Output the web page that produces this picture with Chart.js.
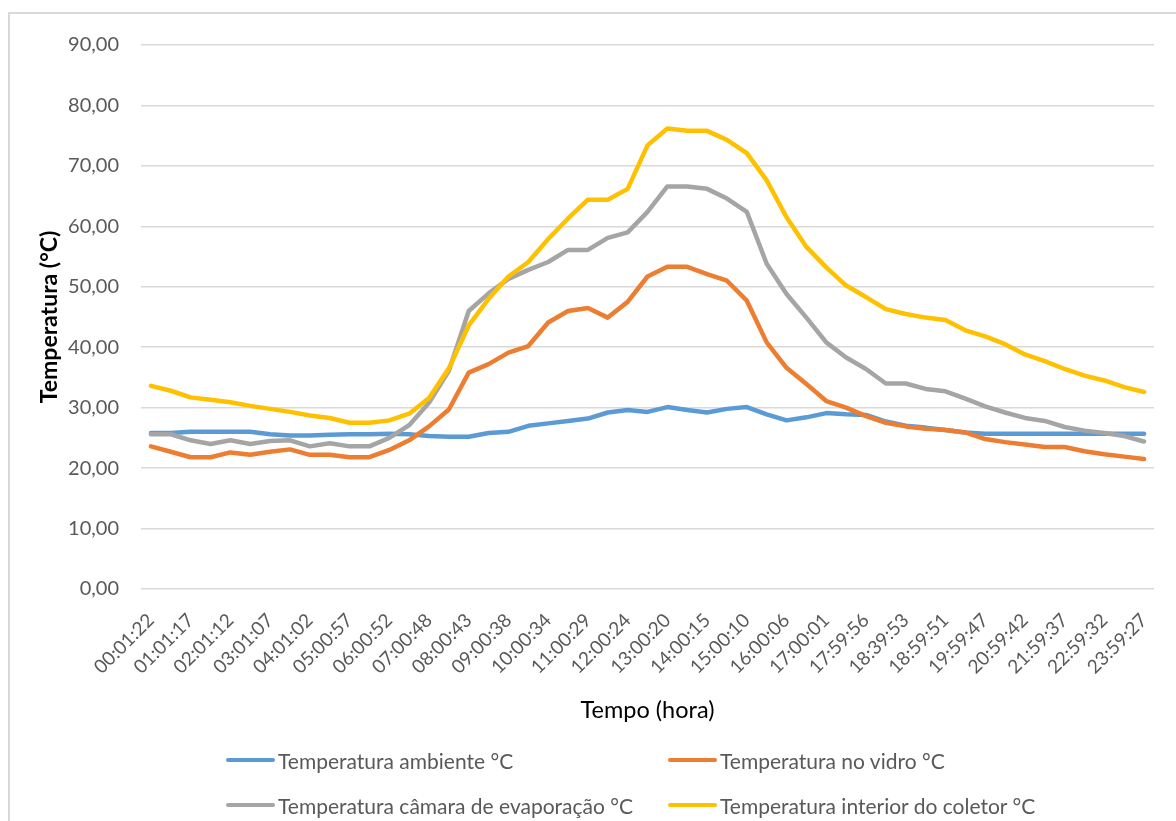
<!DOCTYPE html>
<html>
<head>
<meta charset="utf-8">
<script src="https://cdn.jsdelivr.net/npm/chart.js@4.4.1/dist/chart.umd.min.js"></script>
<style>
  html, body { margin: 0; padding: 0; background: #fff; }
  body { width: 1176px; height: 821px; position: relative; overflow: hidden; font-family: Lato, sans-serif; }
  #frame { position: absolute; left: 8px; top: 12px; width: 1300px; height: 900px; border-left: 2px solid #d9d9d9; border-top: 2px solid #d9d9d9; }
  #tempChart { position: absolute; left: 0; top: 0; }
  #legend { position: absolute; left: 226px; top: 745px; display: grid; grid-template-columns: 442px auto; row-gap: 15px; }
  .item { display: flex; align-items: center; height: 30px; color: #595959; font-size: 21px; white-space: nowrap; }
  .swatch { width: 49px; height: 4px; border-radius: 2px; margin-right: 3px; }
</style>
</head>
<body>
<div id="frame"></div>
<canvas id="tempChart" width="1176" height="821"></canvas>
<div id="legend"></div>
<script>
const horas = [
  '00:01:22', '00:31:20', '01:01:17', '01:31:15', '02:01:12', '02:31:10', '03:01:07', '03:31:05',
  '04:01:02', '04:31:00', '05:00:57', '05:30:55', '06:00:52', '06:30:50', '07:00:48', '07:30:45',
  '08:00:43', '08:30:41', '09:00:38', '09:30:36', '10:00:34', '10:30:31', '11:00:29', '11:30:27',
  '12:00:24', '12:30:22', '13:00:20', '13:30:17', '14:00:15', '14:30:13', '15:00:10', '15:30:08',
  '16:00:06', '16:30:03', '17:00:01', '17:29:58', '17:59:56', '18:19:55', '18:39:53', '18:49:52',
  '18:59:51', '19:29:49', '19:59:47', '20:29:44', '20:59:42', '21:29:40', '21:59:37', '22:29:35',
  '22:59:32', '23:29:30', '23:59:27'
];

const tAmbiente = [
  25.8, 25.8, 26.0, 26.0, 26.0, 26.0, 25.6, 25.4, 25.4, 25.5,
  25.6, 25.6, 25.7, 25.6, 25.3, 25.2, 25.2, 25.8, 26.0, 27.0,
  27.4, 27.8, 28.2, 29.2, 29.6, 29.3, 30.1, 29.6, 29.2, 29.8,
  30.1, 28.9, 27.9, 28.4, 29.1, 28.9, 28.8, 27.7, 27.0, 26.7,
  26.3, 25.9, 25.7, 25.7, 25.7, 25.7, 25.7, 25.7, 25.7, 25.7, 25.7
];

const tVidro = [
  23.6, 22.7, 21.8, 21.8, 22.6, 22.2, 22.7, 23.1, 22.2, 22.2,
  21.8, 21.8, 23.0, 24.6, 26.9, 29.7, 35.8, 37.2, 39.1, 40.2,
  44.1, 46.0, 46.5, 44.9, 47.5, 51.7, 53.3, 53.3, 52.1, 51.0,
  47.7, 40.8, 36.6, 33.9, 31.1, 30.0, 28.6, 27.5, 26.9, 26.5,
  26.3, 25.9, 24.8, 24.3, 23.9, 23.5, 23.5, 22.8, 22.3, 21.9, 21.5
];

const tCamara = [
  25.6, 25.6, 24.6, 24.0, 24.6, 24.0, 24.5, 24.6, 23.6, 24.1,
  23.6, 23.6, 25.0, 27.1, 30.8, 36.1, 46.0, 48.9, 51.3, 52.8,
  54.1, 56.1, 56.1, 58.1, 59.0, 62.4, 66.6, 66.6, 66.2, 64.6,
  62.4, 53.8, 48.8, 44.9, 40.8, 38.3, 36.4, 34.0, 34.0, 33.1,
  32.7, 31.5, 30.2, 29.2, 28.3, 27.8, 26.8, 26.2, 25.8, 25.3, 24.4
];

const tColetor = [
  33.6, 32.8, 31.7, 31.3, 30.9, 30.3, 29.8, 29.3, 28.7, 28.3,
  27.5, 27.5, 27.9, 29.0, 31.6, 36.5, 43.6, 48.0, 51.7, 54.1,
  57.9, 61.3, 64.4, 64.4, 66.2, 73.4, 76.2, 75.8, 75.8, 74.3,
  72.1, 67.6, 61.5, 56.6, 53.2, 50.2, 48.3, 46.3, 45.5, 44.9,
  44.5, 42.8, 41.8, 40.5, 38.8, 37.7, 36.4, 35.3, 34.5, 33.4, 32.6
];

const yTicks = [0, 10, 20, 30, 40, 50, 60, 70, 80, 90];

const series = [
  { label: 'Temperatura ambiente °C', data: tAmbiente, color: '#5B9BD5' },
  { label: 'Temperatura no vidro °C', data: tVidro, color: '#ED7D31' },
  { label: 'Temperatura câmara de evaporação °C', data: tCamara, color: '#A5A5A5' },
  { label: 'Temperatura interior do coletor °C', data: tColetor, color: '#FFC000' }
];

Chart.defaults.font.family = 'Lato, sans-serif';

const ctx = document.getElementById('tempChart').getContext('2d');

new Chart(ctx, {
  type: 'line',
  data: {
    labels: horas,
    datasets: series.map((s, i) => ({
      label: s.label,
      data: s.data,
      borderColor: s.color,
      backgroundColor: s.color,
      borderWidth: 4.5,
      pointRadius: 0,
      tension: 0,
      borderJoinStyle: 'round',
      borderCapStyle: 'round',
      // later series sit on top, like the spreadsheet
      order: series.length - i
    }))
  },
  options: {
    responsive: false,
    animation: false,
    layout: { padding: { top: 45, right: 22, bottom: 96, left: 0 } },
    plugins: {
      legend: { display: false },
      tooltip: { enabled: false }
    },
    scales: {
      x: {
        offset: true,
        grid: { display: false },
        border: { display: false },
        ticks: {
          autoSkip: false,
          minRotation: 45,
          maxRotation: 45,
          padding: 12,
          color: '#595959',
          font: { size: 19 },
          callback: (v, i) => (i % 2 === 0 ? horas[i] : '')
        },
        title: {
          display: true,
          text: 'Tempo (hora)',
          color: '#000',
          font: { size: 23.5 },
          padding: { top: 0, bottom: 0 }
        },
        afterFit: scale => { scale.height = 136; }
      },
      y: {
        min: 0,
        max: 90,
        afterBuildTicks: scale => { scale.ticks = yTicks.map(v => ({ value: v })); },
        grid: { color: '#d9d9d9', lineWidth: 1.5, drawTicks: false },
        border: { display: false },
        ticks: {
          padding: 22,
          color: '#595959',
          font: { size: 20 },
          callback: v => v.toFixed(2).replace('.', ',')
        },
        title: {
          display: true,
          text: 'Temperatura (°C)',
          color: '#000',
          font: { size: 23, weight: 'bold' },
          padding: { top: 36, bottom: 0 }
        },
        afterFit: scale => { scale.width = 141; }
      }
    }
  }
});

// legend laid out in two columns, as in the spreadsheet
const legend = document.getElementById('legend');
series.forEach(s => {
  const item = document.createElement('div');
  item.className = 'item';
  const sw = document.createElement('span');
  sw.className = 'swatch';
  sw.style.background = s.color;
  const txt = document.createElement('span');
  txt.textContent = s.label;
  item.appendChild(sw);
  item.appendChild(txt);
  legend.appendChild(item);
});
</script>
</body>
</html>
